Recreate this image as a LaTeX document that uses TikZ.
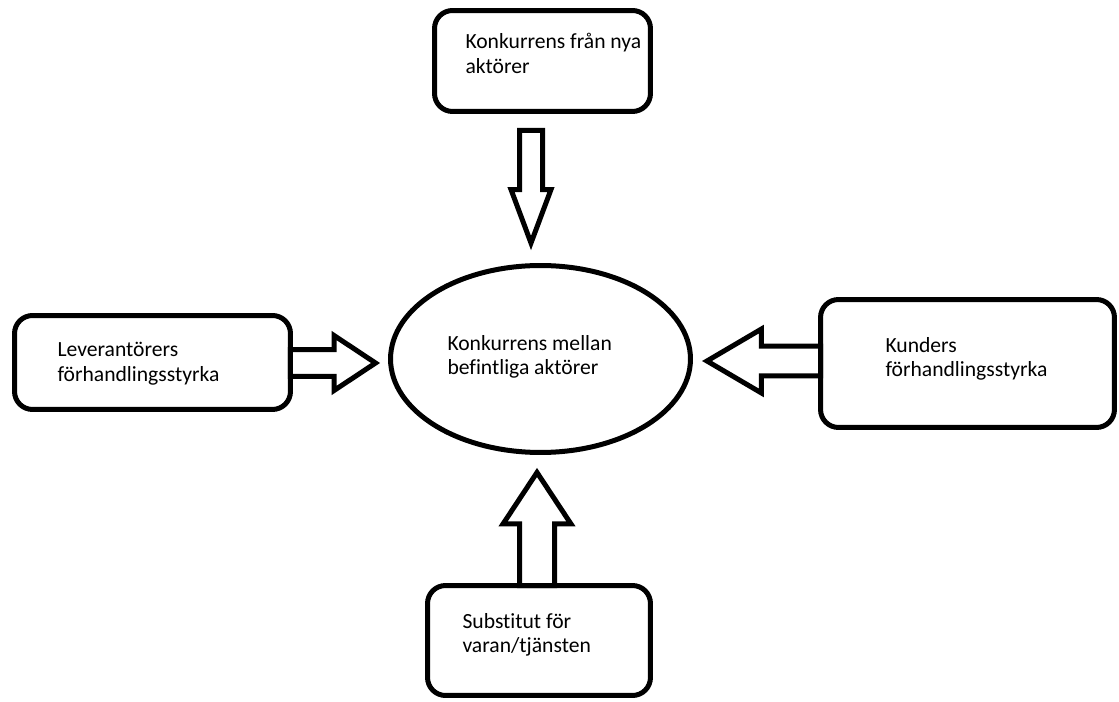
\documentclass[tikz,border=0pt]{standalone}
\usepackage{fontspec}
\setmainfont{Carlito}[Ligatures=NoCommon]
\usetikzlibrary{shapes}
\usetikzlibrary{calc}
\usetikzlibrary{positioning}

\begin{document}
\begin{tikzpicture}[
    x=0.02cm, y=-0.02cm,
    line width=0.1cm,
    font=\fontsize{12.3}{13.9}\selectfont
]
\tikzset{
    kraft/.style = {rectangle, rounded corners=0.36cm, draw=black, inner sep=0pt},
    rival/.style = {ellipse, draw=black, inner sep=0pt, minimum width=6cm, minimum height=3.74cm},
    etikett/.style = {anchor=north west, align=left, inner sep=0pt},
    blockpil/.style args = {#1/#2/#3}{draw=black, line join=miter,
        to path={let \p1=($(\tikztotarget)!#3!(\tikztostart)$) in
            ($(\tikztostart)!#1!90:(\tikztotarget)$) -- ($(\p1)!#1!90:(\tikztotarget)$)
            -- ($(\p1)!#2!90:(\tikztotarget)$) -- (\tikztotarget)
            -- ($(\p1)!#2!-90:(\tikztotarget)$) -- ($(\p1)!#1!-90:(\tikztotarget)$)
            -- ($(\tikztostart)!#1!-90:(\tikztotarget)$) -- cycle}}
}
\useasboundingbox (0,0) rectangle (1119,702);
% de fem krafterna
\node[rival] at (540.5,359) (mid) {};
\node[kraft, minimum width=4.32cm, minimum height=2.02cm] at (542.5,61) (nya) {};
\node[kraft, minimum width=5.52cm, minimum height=1.88cm] at (152.5,362.5) (lev) {};
\node[kraft, minimum width=5.88cm, minimum height=2.56cm] at (967.5,363.5) (kund) {};
\node[kraft, minimum width=4.46cm, minimum height=2.2cm] at (539,640.5) (subst) {};
% texter
\node[etikett] at (445,333) (midtxt) {Konkurrens mellan\\befintliga aktörer};
\node[etikett] at (463,31) (nyatxt) {Konkurrens från nya\\aktörer};
\node[etikett] at (55,340) (levtxt) {Leverantörers\\förhandlingsstyrka};
\node[etikett] at (883,335) (kundtxt) {Kunders\\förhandlingsstyrka};
\node[etikett] at (460,611) (substtxt) {Substitut för\\varan/tjänsten};
% pilarnas ändar
\coordinate (nyas) at ($(nya.south)+(-11.5,16.5)$);
\coordinate (nyae) at ($(mid.north)+(-9.5,-20)$);
\coordinate (levs) at ($(lev.east)+(-2.5,0.5)$);
\coordinate (leve) at ($(mid.west)+(-12.5,4)$);
\coordinate (kunds) at ($(kund.west)+(2.5,-2.5)$);
\coordinate (kunde) at ($(mid.east)+(14,2)$);
\coordinate (substs) at ($(subst.north)+(-2,2.5)$);
\coordinate (subste) at ($(mid.south)+(-3.5,17.5)$);
\draw[blockpil=0.23cm/0.4cm/1.07cm] (nyas) to (nyae);
\draw[blockpil=0.27cm/0.55cm/0.83cm] (levs) to (leve);
\draw[blockpil=0.3cm/0.64cm/1.09cm] (kunds) to (kunde);
\draw[blockpil=0.35cm/0.68cm/1.03cm] (substs) to (subste);
\end{tikzpicture}
\end{document}
